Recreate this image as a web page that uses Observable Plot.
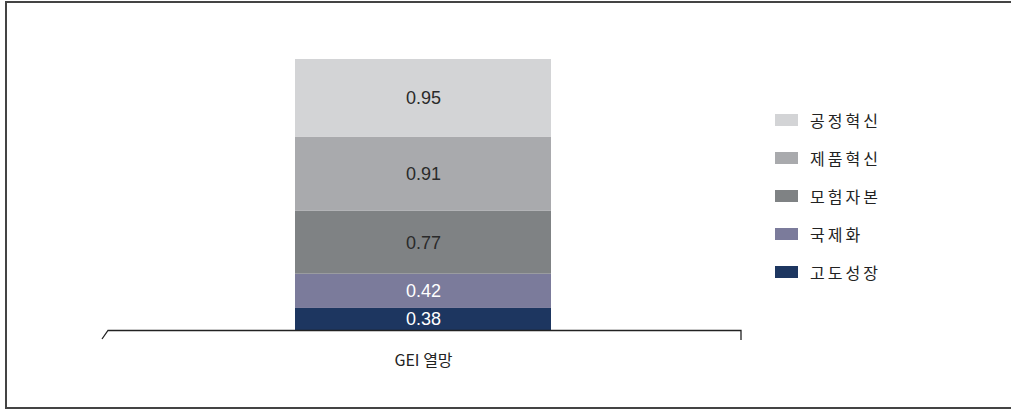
<!DOCTYPE html>
<html>
<head>
<meta charset="utf-8">
<script src="https://cdn.jsdelivr.net/npm/d3@7"></script>
<script src="https://cdn.jsdelivr.net/npm/@observablehq/plot@0.6"></script>
<style>
  html, body { margin: 0; padding: 0; background: #fff; }
  #wrap { position: relative; width: 1011px; height: 409px; overflow: hidden; font-family: "Liberation Sans", "Noto Sans CJK KR", sans-serif; }
  #border { position: absolute; left: 5px; top: 1px; width: 1030px; height: 404px; border: 2px solid #444; border-right: none; }
  #chart { position: absolute; left: 0; top: 0; }
  #legend { position: absolute; left: 775px; top: 101px; }
  .row { display: flex; align-items: center; height: 38px; }
  .sw { width: 23px; height: 12px; margin-right: 12px; }
  .lab { font-family: "Noto Sans CJK KR", sans-serif; font-size: 16px; letter-spacing: 3px; color: #222; }
</style>
</head>
<body>
<div id="wrap">
  <div id="border"></div>
  <div id="chart"></div>
  <div id="legend"></div>
</div>
<script>
// Data (stack order: bottom to top)
const categories = ["GEI 열망"];
const seriesNames = ["고도성장", "국제화", "모험자본", "제품혁신", "공정혁신"];
const seriesValues = [0.38, 0.42, 0.77, 0.91, 0.95];
const seriesColors = ["#1d3660", "#7b7b9b", "#7f8284", "#a9aaad", "#d3d4d6"];
const labelColors = ["#fff", "#fff", "#2a2a2a", "#2a2a2a", "#2a2a2a"];
const legendOrder = ["공정혁신", "제품혁신", "모험자본", "국제화", "고도성장"];

const yMin = 0.11;
const total = d3.sum(seriesValues);

let acc = 0;
const rows = seriesNames.map((s, i) => {
  const y1 = acc;
  acc += seriesValues[i];
  return { cat: categories[0], series: s, value: seriesValues[i], y1, y2: acc,
           ymid: (Math.max(y1, yMin) + acc) / 2, lc: labelColors[i] };
});

const axisDecor = (index, scales, values, dims) => {
  const x0 = dims.marginLeft, x1 = dims.width - dims.marginRight;
  const y0 = dims.height - dims.marginBottom;
  const p = d3.create("svg:path")
    .attr("d", `M${x0 - 3},${y0 + 9}L${x0 + 3},${y0 + 0.5}H${x1}V${y0 + 10}`)
    .attr("fill", "none").attr("stroke", "#222").attr("stroke-width", 1.3);
  return p.node();
};

const plot = Plot.plot({
  width: 1011,
  height: 409,
  marginLeft: 105,
  marginRight: 270,
  marginTop: 59,
  marginBottom: 79,
  style: { fontFamily: "Liberation Sans, Noto Sans CJK KR, sans-serif", background: "transparent" },
  x: { type: "band", domain: categories, padding: 0.426, label: null },
  y: { domain: [yMin, total], axis: null },
  color: { domain: seriesNames, range: seriesColors },
  marks: [
    Plot.barY(rows, { x: "cat", y1: "y1", y2: "y2", fill: "series", clip: true }),
    Plot.text(rows, { x: "cat", y: "ymid", text: d => d.value.toFixed(2), fill: d => d.lc, fontSize: 18 }),
    Plot.axisX({ tickSize: 0, tickPadding: 24, fontSize: 16, fill: "#222", label: null,
                 fontFamily: "Noto Sans CJK KR, sans-serif" }),
    axisDecor
  ]
});
document.getElementById("chart").appendChild(plot);

const legend = document.getElementById("legend");
legendOrder.forEach(name => {
  const i = seriesNames.indexOf(name);
  const row = document.createElement("div");
  row.className = "row";
  const sw = document.createElement("div");
  sw.className = "sw";
  sw.style.background = seriesColors[i];
  const lab = document.createElement("span");
  lab.className = "lab";
  lab.textContent = name;
  row.appendChild(sw);
  row.appendChild(lab);
  legend.appendChild(row);
});
</script>
</body>
</html>
